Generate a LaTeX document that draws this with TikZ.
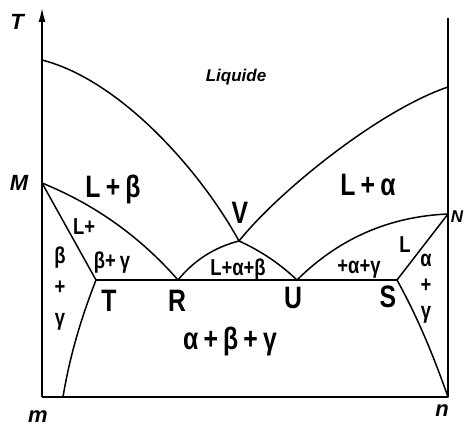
\documentclass[tikz,border=0pt]{standalone}
\usepackage{fontspec}
\setmainfont{Liberation Sans}
\newfontfamily\phasefont[FakeStretch=0.8]{Liberation Sans}
\usetikzlibrary{arrows.meta}

\begin{document}
\begin{tikzpicture}[x=1pt,y=-1pt,line width=1.5pt,line join=round,
  big/.style={font=\phasefont\bfseries\fontsize{31}{34}\selectfont,inner sep=0pt,anchor=base},
  small/.style={font=\phasefont\bfseries\fontsize{23}{26}\selectfont,inner sep=0pt,anchor=base},
  column/.style={font=\phasefont\bfseries\fontsize{23}{26}\selectfont,inner sep=0pt,align=center},
  axislbl/.style={font=\bfseries\itshape\fontsize{22}{24}\selectfont,inner sep=0pt}]
\useasboundingbox (0,0) rectangle (464,428);
% points of the diagram
\coordinate (m) at (42,397);
\coordinate (n) at (448,397);
\coordinate (ytop) at (42,8);
\coordinate (rtop) at (448,18);
\coordinate (Ltop) at (42,60);
\coordinate (Rtop) at (448,87);
\coordinate (M) at (42,183);
\coordinate (N) at (448,214);
\coordinate (V) at (239,241);
\coordinate (T) at (96,280);
\coordinate (R) at (178,280);
\coordinate (U) at (297,280);
\coordinate (S) at (397,280);
\coordinate (Tb) at (63,397);
% frame
\draw[-{Latex[length=14pt,width=7pt]}] (m) -- (ytop);
\draw (m) -- (n) -- (rtop);
% liquidus
\draw (Ltop) .. controls (120,80) and (200,170) .. (V)
  .. controls (280,190) and (380,110) .. (Rtop);
% left side
\draw (M) .. controls (95,204.5) and (140.4,236.9) .. (R);
\draw (M) -- (T);
\draw (T) .. controls (80.9,318.6) and (69.5,357.2) .. (Tb);
% eutectic line
\draw (T) -- (S);
\draw (R) .. controls (194,260.3) and (214.4,247.3) .. (V)
  .. controls (260.5,250.7) and (279.9,263.7) .. (U);
% right side
\draw (U) .. controls (338.8,238.5) and (389.2,216.5) .. (N);
\draw (N) -- (S) .. controls (417.6,317.1) and (433.6,356.1) .. (n);
% labels
\node[axislbl] (lT) at (17,22) {T};
\node[axislbl] (lM) at (19,183) {M};
\node[axislbl,font=\bfseries\itshape\fontsize{17}{19}\selectfont] (lN) at (457,217) {N};
\node[axislbl] (lm) at (38,417) {m};
\node[axislbl] (ln) at (442,411) {n};
\node[font=\bfseries\itshape\fontsize{17}{19}\selectfont,inner sep=0pt,anchor=base] (liq) at (236,82) {Liquide};
\node[big] (lLb) at (113,197) {L\,+\,β};
\node[big] (lLa) at (368,195) {L\,+\,α};
\node[big] (lV) at (240,223) {V};
\node[small] (lLp) at (84,234) {L+};
\node[small] (lbg) at (112,268) {β+\,γ};
\node[column] (lleft) at (60,289) {β\\[5pt]+\\[5pt]γ};
\node[big] (lTT) at (109,311) {T};
\node[big] (lR) at (177,311) {R};
\node[big] (lU) at (293,308) {U};
\node[big] (lS) at (388,307) {S};
\node[small] (lLab) at (238,275) {L+α+β};
\node[small] (lag) at (359,273) {+α+γ};
\node[small] (lL) at (405,252) {L};
\node[column] (lright) at (426,289) {α\\+\\γ};
\node[big] (labg) at (230,349) {α\,+\,β\,+\,γ};
\end{tikzpicture}
\end{document}
